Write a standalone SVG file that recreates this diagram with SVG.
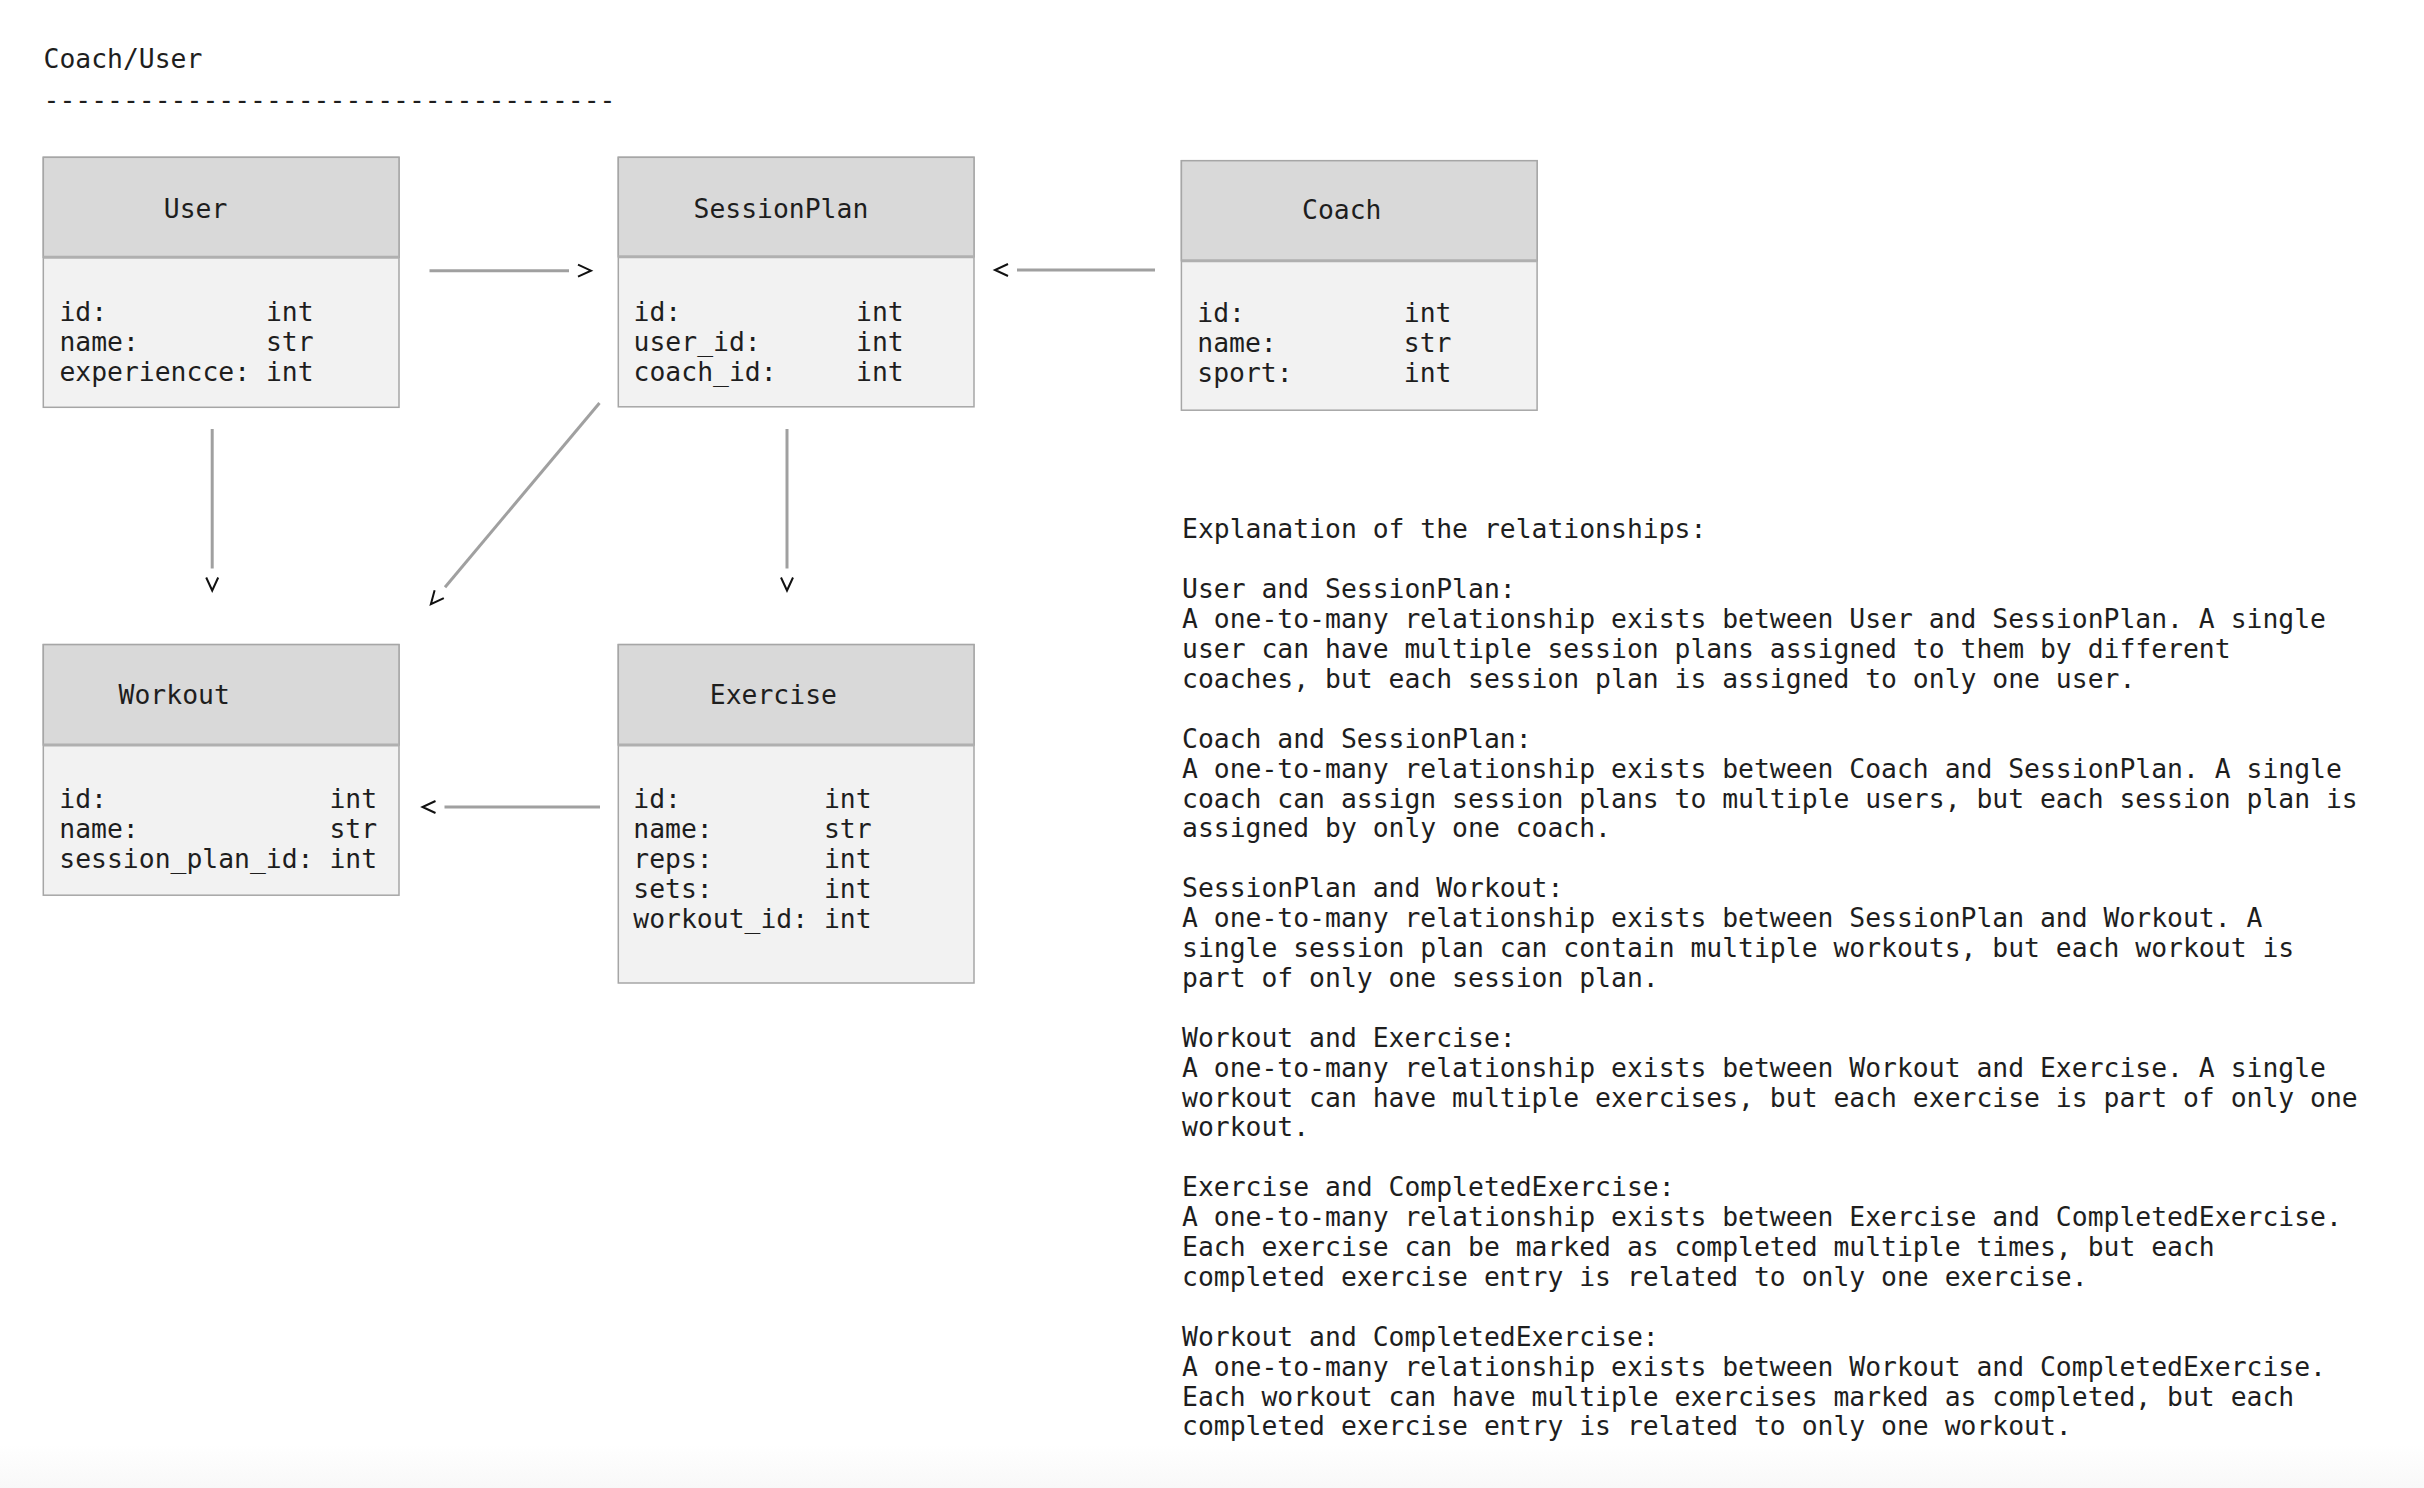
<svg xmlns="http://www.w3.org/2000/svg" width="2424" height="1488" viewBox="0 0 2424 1488">
<style>
  text { font-family: "DejaVu Sans Mono", "Liberation Mono", monospace; font-size: 26.4px; fill: #1e1e1e; }
  .hdr { fill: #d9d9d9; stroke: #a6a6a6; stroke-width: 1.5; }
  .body { fill: #f2f2f2; stroke: #a6a6a6; stroke-width: 1.5; }
  .sep { stroke: #b0b0b0; stroke-width: 3; }
  .conn { stroke: #a0a0a0; stroke-width: 3; fill: none; marker-end: url(#chev); }
</style>
<defs>
  <marker id="chev" markerUnits="userSpaceOnUse" viewBox="0 -9 28 18" markerWidth="28" markerHeight="18" refX="0" refY="0" orient="auto" overflow="visible">
    <path d="M9,-6 L22,0 L9,6" fill="none" stroke="#111" stroke-width="2" stroke-linejoin="miter"/>
  </marker>
  <linearGradient id="fade" x1="0" y1="0" x2="0" y2="1">
    <stop offset="0" stop-color="#ffffff"/>
    <stop offset="1" stop-color="#f8f8f8"/>
  </linearGradient>
</defs>
<rect x="0" y="0" width="2424" height="1488" fill="#ffffff"/>
<rect x="0" y="1445" width="2424" height="43" fill="url(#fade)"/>

<g id="title">
  <text x="43.5" y="68">Coach/User</text>
  <text x="43.5" y="109">------------------------------------</text>
</g>

<g id="node-user">
  <rect class="body" x="43.3" y="157.3" width="355.7" height="250"/>
  <rect class="hdr" x="43.3" y="157.3" width="355.7" height="100"/>
  <line class="sep" x1="43.3" y1="257.3" x2="399" y2="257.3"/>
  <text x="163.8" y="217.5">User</text>
  <text x="59.4" y="320.5" xml:space="preserve">id:          int</text>
  <text x="59.4" y="350.5" xml:space="preserve">name:        str</text>
  <text x="59.4" y="380.5" xml:space="preserve">experiencce: int</text>
</g>

<g id="node-sessionplan">
  <rect class="body" x="618.3" y="157.3" width="355.7" height="249.5"/>
  <rect class="hdr" x="618.3" y="157.3" width="355.7" height="99.5"/>
  <line class="sep" x1="618.3" y1="256.8" x2="974" y2="256.8"/>
  <text x="693.5" y="217.5">SessionPlan</text>
  <text x="633.6" y="320.5" xml:space="preserve">id:           int</text>
  <text x="633.6" y="350.5" xml:space="preserve">user_id:      int</text>
  <text x="633.6" y="380.5" xml:space="preserve">coach_id:     int</text>
</g>

<g id="node-coach">
  <rect class="body" x="1181.4" y="160.7" width="355.7" height="249.5"/>
  <rect class="hdr" x="1181.4" y="160.7" width="355.7" height="100"/>
  <line class="sep" x1="1181.4" y1="260.7" x2="1537.1" y2="260.7"/>
  <text x="1302" y="219">Coach</text>
  <text x="1197.3" y="322.2" xml:space="preserve">id:          int</text>
  <text x="1197.3" y="352.2" xml:space="preserve">name:        str</text>
  <text x="1197.3" y="382.2" xml:space="preserve">sport:       int</text>
</g>

<g id="node-workout">
  <rect class="body" x="43.3" y="644.6" width="355.7" height="250.6"/>
  <rect class="hdr" x="43.3" y="644.6" width="355.7" height="100.4"/>
  <line class="sep" x1="43.3" y1="745" x2="399" y2="745"/>
  <text x="118.6" y="704.3">Workout</text>
  <text x="59.3" y="807.5" xml:space="preserve">id:              int</text>
  <text x="59.3" y="837.5" xml:space="preserve">name:            str</text>
  <text x="59.3" y="867.5" xml:space="preserve">session_plan_id: int</text>
</g>

<g id="node-exercise">
  <rect class="body" x="618.3" y="644.6" width="355.7" height="338.4"/>
  <rect class="hdr" x="618.3" y="644.6" width="355.7" height="100.4"/>
  <line class="sep" x1="618.3" y1="745" x2="974" y2="745"/>
  <text x="709.8" y="704.3">Exercise</text>
  <text x="633.3" y="807.5" xml:space="preserve">id:         int</text>
  <text x="633.3" y="837.5" xml:space="preserve">name:       str</text>
  <text x="633.3" y="867.5" xml:space="preserve">reps:       int</text>
  <text x="633.3" y="897.5" xml:space="preserve">sets:       int</text>
  <text x="633.3" y="927.5" xml:space="preserve">workout_id: int</text>
</g>

<g id="connectors">
  <line class="conn" x1="429.5" y1="270.7" x2="569" y2="270.7"/>
  <line class="conn" x1="1155" y1="270" x2="1017" y2="270"/>
  <line class="conn" x1="212.2" y1="429" x2="212.2" y2="568.5"/>
  <line class="conn" x1="787" y1="429" x2="787" y2="568.5"/>
  <line class="conn" x1="599.5" y1="403" x2="445" y2="587.3"/>
  <line class="conn" x1="600" y1="807" x2="444.5" y2="807"/>
</g>

<g id="explanation">
  <text x="1182" y="538.4">Explanation of the relationships:</text>
  <text x="1182" y="598.2">User and SessionPlan:</text>
  <text x="1182" y="628.1">A one-to-many relationship exists between User and SessionPlan. A single</text>
  <text x="1182" y="658">user can have multiple session plans assigned to them by different</text>
  <text x="1182" y="687.9">coaches, but each session plan is assigned to only one user.</text>
  <text x="1182" y="747.7">Coach and SessionPlan:</text>
  <text x="1182" y="777.6">A one-to-many relationship exists between Coach and SessionPlan. A single</text>
  <text x="1182" y="807.5">coach can assign session plans to multiple users, but each session plan is</text>
  <text x="1182" y="837.4">assigned by only one coach.</text>
  <text x="1182" y="897.2">SessionPlan and Workout:</text>
  <text x="1182" y="927.1">A one-to-many relationship exists between SessionPlan and Workout. A</text>
  <text x="1182" y="957">single session plan can contain multiple workouts, but each workout is</text>
  <text x="1182" y="986.9">part of only one session plan.</text>
  <text x="1182" y="1046.7">Workout and Exercise:</text>
  <text x="1182" y="1076.6">A one-to-many relationship exists between Workout and Exercise. A single</text>
  <text x="1182" y="1106.5">workout can have multiple exercises, but each exercise is part of only one</text>
  <text x="1182" y="1136.4">workout.</text>
  <text x="1182" y="1196.2">Exercise and CompletedExercise:</text>
  <text x="1182" y="1226.1">A one-to-many relationship exists between Exercise and CompletedExercise.</text>
  <text x="1182" y="1256">Each exercise can be marked as completed multiple times, but each</text>
  <text x="1182" y="1285.9">completed exercise entry is related to only one exercise.</text>
  <text x="1182" y="1345.7">Workout and CompletedExercise:</text>
  <text x="1182" y="1375.6">A one-to-many relationship exists between Workout and CompletedExercise.</text>
  <text x="1182" y="1405.5">Each workout can have multiple exercises marked as completed, but each</text>
  <text x="1182" y="1435.4">completed exercise entry is related to only one workout.</text>
</g>
</svg>
